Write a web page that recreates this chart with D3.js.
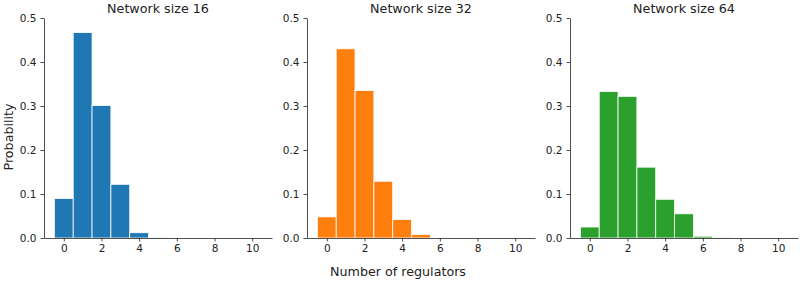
<!DOCTYPE html>
<html>
<head>
<meta charset="utf-8">
<script src="https://d3js.org/d3.v7.min.js"></script>
<style>
  body { margin: 0; background: #fff; }
  svg text { font-family: "DejaVu Sans", sans-serif; fill: #222; }
  .tick text { font-size: 10.5px; }
  .title { font-size: 12.7px; }
  .label { font-size: 12.7px; }
</style>
</head>
<body>
<div id="chart-container"></div>
<script>
// number of regulators (bin centres)
const regulators = [0, 1, 2, 3, 4, 5, 6, 7, 8, 9, 10];
const networkSizes = [16, 32, 64];
const colors = ["#1f77b4", "#ff7f0e", "#2ca02c"];

// probability per bin
const probs16 = [0.090, 0.467, 0.301, 0.122, 0.012, 0.0005, 0, 0, 0, 0, 0];
const probs32 = [0.048, 0.430, 0.335, 0.129, 0.042, 0.008, 0.001, 0, 0, 0, 0];
const probs64 = [0.025, 0.333, 0.322, 0.161, 0.088, 0.055, 0.004, 0.0005, 0, 0, 0];
const allProbs = [probs16, probs32, probs64];

const xTicks = [0, 2, 4, 6, 8, 10];
const yTicks = [0, 0.1, 0.2, 0.3, 0.4, 0.5];

const W = 800, H = 282;
const panelLeft = [44, 307, 570];
const panelWidth = 228;
const plotTop = 18, plotBottom = 238;

const svg = d3.select("#chart-container")
    .append("svg")
    .attr("width", W)
    .attr("height", H);

const y = d3.scaleLinear()
    .domain([0, 0.5])
    .range([plotBottom, plotTop]);

networkSizes.forEach(function (size, i) {
    const x = d3.scaleLinear()
        .domain([-1.05, 11.05])
        .range([panelLeft[i], panelLeft[i] + panelWidth]);

    const g = svg.append("g");

    // bars
    g.selectAll("rect")
        .data(regulators.map((r, k) => ({r: r, p: allProbs[i][k]})))
        .join("rect")
        .attr("x", d => x(d.r - 0.5))
        .attr("y", d => y(d.p))
        .attr("width", d => x(d.r + 0.5) - x(d.r - 0.5))
        .attr("height", d => plotBottom - y(d.p))
        .attr("fill", colors[i])
        .attr("stroke", "#fff")
        .attr("stroke-width", 0.8);

    // x axis
    const xa = g.append("g")
        .attr("transform", `translate(0, ${plotBottom})`)
        .call(d3.axisBottom(x).tickValues(xTicks).tickSize(3.5).tickPadding(3.5).tickSizeOuter(0));
    // y axis
    const ya = g.append("g")
        .attr("transform", `translate(${panelLeft[i]}, 0)`)
        .call(d3.axisLeft(y).tickValues(yTicks).tickFormat(d3.format(".1f")).tickSize(3.5).tickPadding(4).tickSizeOuter(0));

    [xa, ya].forEach(a => {
        a.select(".domain").attr("stroke", "#222").attr("stroke-width", 0.8);
        a.selectAll(".tick line").attr("stroke", "#222").attr("stroke-width", 0.8);
        a.selectAll(".tick text").attr("fill", "#222");
    });

    g.append("text")
        .attr("class", "title")
        .attr("x", panelLeft[i] + panelWidth / 2)
        .attr("y", 12.5)
        .attr("text-anchor", "middle")
        .text("Network size " + size);
});

svg.append("text")
    .attr("class", "label")
    .attr("transform", `translate(13, 137) rotate(-90)`)
    .attr("text-anchor", "middle")
    .text("Probability");

svg.append("text")
    .attr("class", "label")
    .attr("x", 398)
    .attr("y", 276)
    .attr("text-anchor", "middle")
    .text("Number of regulators");
</script>
</body>
</html>
